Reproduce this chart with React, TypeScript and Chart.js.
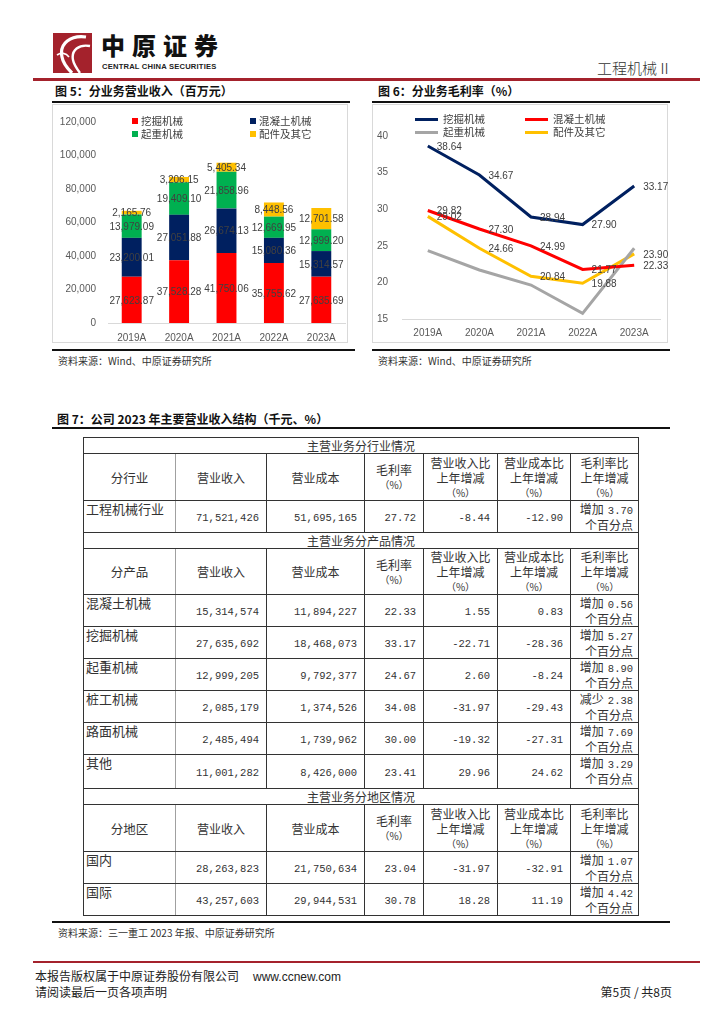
import React, { useEffect, useRef } from 'react';
import { Chart, registerables } from 'chart.js';

Chart.register(...registerables);

// ---------- Chart data ----------
const years = ['2019A', '2020A', '2021A', '2022A', '2023A'];
const seriesNames = ['挖掘机械', '混凝土机械', '起重机械', '配件及其它'];

// 图5 分业务营业收入（百万元）
const revExcavator = [27623.87, 37528.28, 41750.06, 35755.62, 27635.69];
const revConcrete = [23200.01, 27051.88, 26674.13, 15080.36, 15314.57];
const revCrane = [13979.09, 19409.1, 21858.96, 12669.95, 12999.2];
const revParts = [2165.76, 3206.15, 5405.34, 8448.56, 12701.58];
const revColors = ['#FF0000', '#002060', '#00B050', '#FFC000'];
const revMax = 120000;
const revStep = 20000;

// 图6 分业务毛利率（%）
const gmExcavator = [38.64, 34.67, 28.94, 27.9, 33.17];
const gmConcrete = [29.82, 27.3, 24.99, 21.77, 22.33];
const gmCrane = [24.33, 21.7, 19.64, 15.77, 24.67];
const gmParts = [29.02, 24.66, 20.84, 19.88, 23.9];
const gmColors = ['#002060', '#FF0000', '#A5A5A5', '#FFC000'];
const gmLabeled = [true, true, false, true];
const gmMin = 15;
const gmMax = 40;
const gmStep = 5;

// ---------- Table data ----------
const sectionTitles = ['主营业务分行业情况', '主营业务分产品情况', '主营业务分地区情况'];
const groupLabels = ['分行业', '分产品', '分地区'];
const headerCols = ['营业收入', '营业成本', '毛利率\n（%）', '营业收入比\n上年增减\n（%）', '营业成本比\n上年增减\n（%）', '毛利率比\n上年增减\n（%）'];
const industryRows = [
  ['工程机械行业', '71,521,426', '51,695,165', '27.72', '-8.44', '-12.90', '增加', '3.70'],
];
const productRows = [
  ['混凝土机械', '15,314,574', '11,894,227', '22.33', '1.55', '0.83', '增加', '0.56'],
  ['挖掘机械', '27,635,692', '18,468,073', '33.17', '-22.71', '-28.36', '增加', '5.27'],
  ['起重机械', '12,999,205', '9,792,377', '24.67', '2.60', '-8.24', '增加', '8.90'],
  ['桩工机械', '2,085,179', '1,374,526', '34.08', '-31.97', '-29.43', '减少', '2.38'],
  ['路面机械', '2,485,494', '1,739,962', '30.00', '-19.32', '-27.31', '增加', '7.69'],
  ['其他', '11,001,282', '8,426,000', '23.41', '29.96', '24.62', '增加', '3.29'],
];
const regionRows = [
  ['国内', '28,263,823', '21,750,634', '23.04', '-31.97', '-32.91', '增加', '1.07'],
  ['国际', '43,257,603', '29,944,531', '30.78', '18.28', '11.19', '增加', '4.42'],
];
const pointUnit = '个百分点';

const FONT = '"Liberation Sans", Arial, sans-serif';
const CJK = '"Noto Sans CJK SC", sans-serif';
const MONO = '"Liberation Mono", "DejaVu Sans Mono", monospace';

const fmt2 = (v: number) =>
  v.toLocaleString('en-US', { minimumFractionDigits: 2, maximumFractionDigits: 2 });

function RevenueChart() {
  const ref = useRef<HTMLCanvasElement>(null);
  useEffect(() => {
    const labelPlugin = {
      id: 'barLabels',
      afterDatasetsDraw(chart: any) {
        const ctx = chart.ctx;
        ctx.save();
        ctx.font = '10px ' + FONT;
        ctx.fillStyle = '#404040';
        ctx.textAlign = 'center';
        ctx.textBaseline = 'middle';
        chart.data.datasets.forEach((ds: any, i: number) => {
          const meta = chart.getDatasetMeta(i);
          meta.data.forEach((bar: any, j: number) => {
            const p = bar.getProps(['x', 'y', 'base'], true);
            ctx.fillText(fmt2(ds.data[j]), p.x, (p.y + p.base) / 2 + 1);
          });
        });
        ctx.restore();
      },
    };
    const series = [revExcavator, revConcrete, revCrane, revParts];
    const chart = new Chart(ref.current as HTMLCanvasElement, {
      type: 'bar',
      data: {
        labels: years,
        datasets: series.map((d, i) => ({
          label: seriesNames[i],
          data: d,
          backgroundColor: revColors[i],
          borderWidth: 0,
          categoryPercentage: 1,
          barPercentage: 0.42,
        })),
      },
      options: {
        animation: false,
        responsive: false,
        maintainAspectRatio: false,
        layout: { padding: { top: 7, right: 3, left: 0, bottom: 0 } },
        plugins: { legend: { display: false }, tooltip: { enabled: false } },
        scales: {
          x: {
            stacked: true,
            grid: { display: false, drawTicks: false },
            border: { color: '#D9D9D9' },
            ticks: { color: '#595959', font: { size: 10, family: FONT }, padding: 9 },
            afterFit(s: any) { s.height = 20; },
          },
          y: {
            stacked: true,
            min: 0,
            max: revMax,
            grid: { display: false, drawTicks: false },
            border: { display: false },
            ticks: {
              stepSize: revStep,
              color: '#595959',
              font: { size: 10, family: FONT },
              padding: 12,
              callback: (v: any) => Number(v).toLocaleString('en-US'),
            },
            afterFit(s: any) { s.width = 56; },
          },
        },
      } as any,
      plugins: [labelPlugin],
    });
    return () => chart.destroy();
  }, []);
  return <canvas ref={ref} width={296} height={239} style={{ width: 296, height: 239, display: 'block' }} />;
}

function MarginChart() {
  const ref = useRef<HTMLCanvasElement>(null);
  useEffect(() => {
    const labelPlugin = {
      id: 'lineLabels',
      afterDatasetsDraw(chart: any) {
        const ctx = chart.ctx;
        ctx.save();
        ctx.font = '10px ' + FONT;
        ctx.fillStyle = '#404040';
        ctx.textAlign = 'left';
        ctx.textBaseline = 'middle';
        chart.data.datasets.forEach((ds: any, i: number) => {
          if (!gmLabeled[i]) return;
          const meta = chart.getDatasetMeta(i);
          meta.data.forEach((pt: any, j: number) => {
            ctx.fillText(Number(ds.data[j]).toFixed(2), pt.x + 9, pt.y + 1);
          });
        });
        ctx.restore();
      },
    };
    const series = [gmExcavator, gmConcrete, gmCrane, gmParts];
    const chart = new Chart(ref.current as HTMLCanvasElement, {
      type: 'line',
      data: {
        labels: years,
        datasets: series.map((d, i) => ({
          label: seriesNames[i],
          data: d,
          borderColor: gmColors[i],
          backgroundColor: gmColors[i],
          borderWidth: 3,
          pointRadius: 0,
          tension: 0,
          fill: false,
        })),
      },
      options: {
        animation: false,
        responsive: false,
        maintainAspectRatio: false,
        layout: { padding: { top: 32, right: 8, left: 0, bottom: 0 } },
        plugins: { legend: { display: false }, tooltip: { enabled: false } },
        scales: {
          x: {
            offset: true,
            grid: { display: false, drawTicks: false },
            border: { color: '#D9D9D9' },
            ticks: { color: '#595959', font: { size: 10, family: FONT }, padding: 8 },
            afterFit(s: any) { s.height = 24; },
          },
          y: {
            min: gmMin,
            max: gmMax,
            grid: { display: false, drawTicks: false },
            border: { display: false },
            ticks: { stepSize: gmStep, color: '#595959', font: { size: 10, family: FONT }, padding: 14 },
            afterFit(s: any) { s.width = 30; },
          },
        },
      } as any,
      plugins: [labelPlugin],
    });
    return () => chart.destroy();
  }, []);
  return <canvas ref={ref} width={296} height={239} style={{ width: 296, height: 239, display: 'block' }} />;
}

const abs = (left: number, top: number, extra: React.CSSProperties = {}): React.CSSProperties => ({
  position: 'absolute',
  left,
  top,
  ...extra,
});

function Rule({ left, top, width, h = 2, color = '#111' }: { left: number; top: number; width: number; h?: number; color?: string }) {
  return <div style={abs(left, top, { width, height: h, background: color })} />;
}

function DataTable() {
  const colWidths = [92, 91, 98, 59, 74, 73, 68];
  const bd = '1px solid #333';
  const cellBase: React.CSSProperties = {
    border: bd,
    padding: 0,
    color: '#333',
    fontFamily: CJK,
    fontSize: 12,
    overflow: 'hidden',
  };
  const firstCol: React.CSSProperties = { borderRight: '1px solid #A0A0A0' };
  const sections = [industryRows, productRows, regionRows];
  const headerHeights = [47, 46, 47];
  const rowHeightsBySection = [[32], [31, 31, 31, 31, 31, 34], [32, 30]];
  const rows: React.ReactNode[] = [];
  sections.forEach((data, si) => {
    rows.push(
      <tr key={'s' + si} style={{ height: 16 }}>
        <td colSpan={7} style={{ ...cellBase, textAlign: 'center', lineHeight: '14px', verticalAlign: 'middle' }}>
          {sectionTitles[si]}
        </td>
      </tr>
    );
    rows.push(
      <tr key={'h' + si} style={{ height: headerHeights[si] }}>
        <td style={{ ...cellBase, ...firstCol, textAlign: 'center', verticalAlign: 'middle', fontSize: 12.5 }}>{groupLabels[si]}</td>
        {headerCols.map((h, k) => (
          <td key={k} style={{ ...cellBase, textAlign: 'center', verticalAlign: 'middle', lineHeight: '15px' }}>
            {h.split('\n').map((line, li) => (
              <div key={li} style={{ fontSize: line.startsWith('（') ? 10 : 12 }}>{line}</div>
            ))}
          </td>
        ))}
      </tr>
    );
    data.forEach((r, ri) => {
      rows.push(
        <tr key={'r' + si + '_' + ri} style={{ height: rowHeightsBySection[si][ri] }}>
          <td style={{ ...cellBase, ...firstCol, verticalAlign: 'top', textAlign: 'left', paddingLeft: 2, paddingTop: 1, fontSize: 13, lineHeight: '14px' }}>
            {r[0]}
          </td>
          {r.slice(1, 6).map((v, k) => (
            <td key={k} style={{ ...cellBase, textAlign: 'right', verticalAlign: 'middle', paddingRight: 7, paddingTop: 3, fontFamily: MONO, fontSize: 10.5 }}>
              {v}
            </td>
          ))}
          <td style={{ ...cellBase, textAlign: 'right', verticalAlign: 'top', paddingRight: 5, paddingTop: 1, lineHeight: '14px', fontSize: 12 }}>
            <div>
              {r[6]}
              <span style={{ fontFamily: MONO, fontSize: 10.5, marginLeft: 4 }}>{r[7]}</span>
            </div>
            <div>{pointUnit}</div>
          </td>
        </tr>
      );
    });
  });
  return (
    <table style={abs(83, 437, { borderCollapse: 'collapse', tableLayout: 'fixed', width: 555, borderSpacing: 0 })}>
      <colgroup>
        {colWidths.map((w, i) => (
          <col key={i} style={{ width: w }} />
        ))}
      </colgroup>
      <tbody>{rows}</tbody>
    </table>
  );
}

function Logo() {
  return (
    <svg width={39} height={40} viewBox="0 0 39 40" style={abs(53, 33)}>
      <rect x={0} y={0} width={39} height={40} fill="#A4222C" />
      <path d="M33 4 C 18 2, 6 10, 9 24 C 10 30, 14 35, 19 40" stroke="#fff" strokeWidth={3.2} fill="none" />
      <path d="M37 13 C 26 11, 18 17, 20 27 C 21 32, 24 36, 27 40" stroke="#fff" strokeWidth={2.4} fill="none" />
      <path d="M4 22 C 8 19, 13 20, 16 24" stroke="#fff" strokeWidth={1.6} fill="none" />
    </svg>
  );
}

export default function App() {
  const legendText: React.CSSProperties = { fontFamily: CJK, color: '#404040', lineHeight: '12px', whiteSpace: 'nowrap' };
  const barLegendPos = [
    [132, 118],
    [250, 118],
    [132, 131],
    [250, 131],
  ];
  const lineLegendPos = [
    [415, 119],
    [525, 119],
    [415, 132],
    [525, 132],
  ];
  return (
    <div style={{ position: 'absolute', left: 0, top: 0, width: 724, height: 1024, background: '#fff', fontFamily: CJK, color: '#222' }}>
      {/* Header */}
      <Logo />
      <div style={abs(101, 31, { fontSize: 24, fontWeight: 900, letterSpacing: 7, lineHeight: '28px', color: '#111' })}>中原证券</div>
      <div style={abs(102, 62, { fontFamily: FONT, fontSize: 7.6, fontWeight: 700, lineHeight: '9px', letterSpacing: 0.2, color: '#222' })}>
        CENTRAL CHINA SECURITIES
      </div>
      <div style={{ ...abs(560, 58, { width: 112, textAlign: 'right', fontSize: 15, lineHeight: '20px', color: '#333', fontWeight: 300 }) }}>工程机械Ⅱ</div>
      <Rule left={33} top={78} width={667} h={3} color="#A4222C" />

      {/* Figure titles */}
      <div style={abs(55, 83, { fontSize: 12, fontWeight: 700, lineHeight: '15px', color: '#111' })}>图 5：分业务营业收入（百万元）</div>
      <div style={abs(378, 83, { fontSize: 12, fontWeight: 700, lineHeight: '15px', color: '#111' })}>图 6：分业务毛利率（%）</div>
      <Rule left={52} top={101} width={298} />
      <Rule left={372} top={101} width={298} />

      {/* Chart 1 */}
      <div style={abs(52, 104, { width: 296, height: 239, boxSizing: 'border-box', border: '1px solid #D9D9D9' })} />
      <div style={abs(52, 104)}>
        <RevenueChart />
      </div>
      {seriesNames.map((n, i) => (
        <React.Fragment key={'bl' + i}>
          <div style={abs(barLegendPos[i][0], barLegendPos[i][1], { width: 6, height: 6, background: revColors[i] })} />
          <div style={abs(barLegendPos[i][0] + 9, barLegendPos[i][1] - 3, { ...legendText, fontSize: 10.5 })}>{n}</div>
        </React.Fragment>
      ))}

      {/* Chart 2 */}
      <div style={abs(372, 104, { width: 296, height: 239, boxSizing: 'border-box', border: '1px solid #D9D9D9' })} />
      <div style={abs(372, 104)}>
        <MarginChart />
      </div>
      {seriesNames.map((n, i) => (
        <React.Fragment key={'ll' + i}>
          <div style={abs(lineLegendPos[i][0], lineLegendPos[i][1] - 1, { width: 23, height: 3, background: gmColors[i] })} />
          <div style={abs(lineLegendPos[i][0] + 28, lineLegendPos[i][1] - 6, { ...legendText, fontSize: 10.5 })}>{n}</div>
        </React.Fragment>
      ))}

      <Rule left={52} top={349} width={303} />
      <Rule left={372} top={349} width={298} />
      <div style={abs(58, 354, { fontSize: 10, lineHeight: '14px', color: '#333' })}>资料来源：Wind、中原证券研究所</div>
      <div style={abs(378, 354, { fontSize: 10, lineHeight: '14px', color: '#333' })}>资料来源：Wind、中原证券研究所</div>

      {/* Figure 7 */}
      <div style={abs(57, 411, { fontSize: 12, fontWeight: 700, lineHeight: '15px', color: '#111' })}>图 7：公司 2023 年主要营业收入结构（千元、%）</div>
      <Rule left={52} top={427} width={618} />
      <DataTable />
      <Rule left={52} top={921} width={618} />
      <div style={abs(58, 926, { fontSize: 10, lineHeight: '14px', color: '#333' })}>资料来源：三一重工 2023 年报、中原证券研究所</div>

      {/* Footer */}
      <Rule left={33} top={961} width={667} h={2} color="#A4222C" />
      <div style={abs(35, 968, { fontSize: 12, lineHeight: '15px', color: '#222', whiteSpace: 'nowrap' })}>
        本报告版权属于中原证券股份有限公司
        <span style={{ fontFamily: FONT, marginLeft: 14 }}>www.ccnew.com</span>
      </div>
      <div style={abs(35, 984, { fontSize: 12, lineHeight: '15px', color: '#222' })}>请阅读最后一页各项声明</div>
      <div style={abs(560, 984, { width: 112, textAlign: 'right', fontSize: 12, lineHeight: '15px', color: '#222', whiteSpace: 'nowrap' })}>
        第5页 / 共8页
      </div>
    </div>
  );
}
